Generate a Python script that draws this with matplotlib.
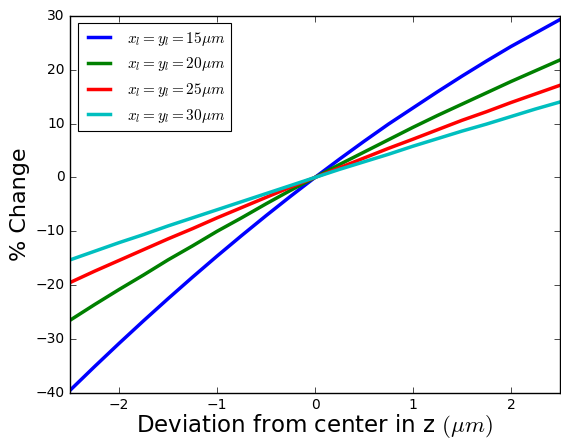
import numpy as np
import matplotlib
matplotlib.use('Agg')
import matplotlib.pyplot as plt

# deviation from center in z (um)
z = [-2.5, -2.25, -2.0, -1.75, -1.5, -1.25, -1.0, -0.75, -0.5, -0.25, 0.0,
     0.25, 0.5, 0.75, 1.0, 1.25, 1.5, 1.75, 2.0, 2.25, 2.5]

# % change for each lens size
chg_15 = [-39.5, -35.1, -30.8, -26.6, -22.5, -18.5, -14.6, -10.8, -7.1, -3.5, 0.0,
          3.4, 6.7, 9.9, 12.9, 15.9, 18.8, 21.6, 24.3, 26.8, 29.3]
chg_20 = [-26.5, -23.6, -20.8, -18.1, -15.3, -12.7, -10.0, -7.5, -4.9, -2.4, 0.0,
          2.4, 4.7, 7.0, 9.3, 11.5, 13.6, 15.7, 17.8, 19.8, 21.8]
chg_25 = [-19.5, -17.4, -15.4, -13.4, -11.4, -9.5, -7.5, -5.6, -3.7, -1.8, 0.0,
          1.8, 3.6, 5.4, 7.1, 8.85, 10.6, 12.2, 13.9, 15.5, 17.1]
chg_30 = [-15.3, -13.7, -12.1, -10.6, -9.0, -7.5, -6.0, -4.5, -3.0, -1.5, 0.0,
          1.5, 2.9, 4.3, 5.8, 7.2, 8.6, 9.9, 11.3, 12.7, 14.0]

labels = [r'$x_l = y_l = 15\mu m$', r'$x_l = y_l = 20\mu m$',
          r'$x_l = y_l = 25\mu m$', r'$x_l = y_l = 30\mu m$']
colors = ['b', 'g', 'r', 'c']

plt.style.use('classic')
plt.rcParams['mathtext.fontset'] = 'cm'

fig = plt.figure(figsize=(5.61, 4.4), dpi=100, facecolor='white')
ax = fig.add_axes([0.125, 0.107, 0.873, 0.857])

for y, lab, c in zip([chg_15, chg_20, chg_25, chg_30], labels, colors):
    ax.plot(z, y, color=c, lw=2.5, label=lab)

ax.set_xlim(-2.5, 2.5)
ax.set_ylim(-40, 30)
ax.set_xticks([-2, -1, 0, 1, 2])
ax.tick_params(labelsize=10)
ax.set_xlabel(r'Deviation from center in z $(\mu m)$', fontsize=16.5, labelpad=0)
ax.set_ylabel('% Change', fontsize=16, labelpad=4)

leg = ax.legend(loc='upper left', fontsize=11)
leg.get_frame().set_linewidth(0.8)

fig.savefig('out.png', dpi=100, facecolor='white')
